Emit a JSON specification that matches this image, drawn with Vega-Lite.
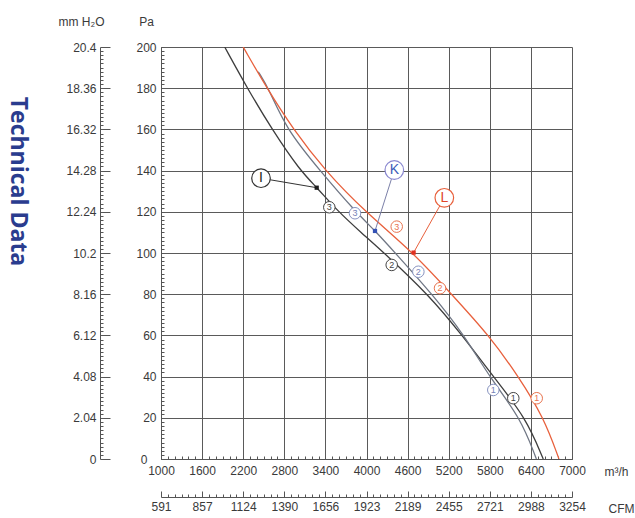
{
  "$schema": "https://vega.github.io/schema/vega-lite/v6.json",
  "width": 411,
  "height": 412,
  "autosize": {"type": "none"},
  "padding": {"left": 161, "top": 47, "right": 63, "bottom": 59},
  "background": "white",
  "config": {
    "view": {"stroke": null},
    "axis": {
      "labelFont": "Liberation Sans",
      "labelFontSize": 12,
      "labelColor": "#3a3a3a",
      "titleFont": "Liberation Sans",
      "titleFontSize": 12,
      "titleFontWeight": "normal",
      "titleColor": "#3a3a3a",
      "domainColor": "#555555",
      "tickColor": "#555555",
      "labelOverlap": false,
      "labelFlush": false,
      "labelBound": false
    }
  },
  "datasets": {
    "curves": [
      {"fan": "I", "flow": 1930, "pressure": 200},
      {"fan": "I", "flow": 2260, "pressure": 180},
      {"fan": "I", "flow": 2620, "pressure": 160},
      {"fan": "I", "flow": 3030, "pressure": 140},
      {"fan": "I", "flow": 3270, "pressure": 132},
      {"fan": "I", "flow": 3590, "pressure": 120},
      {"fan": "I", "flow": 3920, "pressure": 110},
      {"fan": "I", "flow": 4260, "pressure": 100},
      {"fan": "I", "flow": 4900, "pressure": 80},
      {"fan": "I", "flow": 5400, "pressure": 60},
      {"fan": "I", "flow": 5850, "pressure": 40},
      {"fan": "I", "flow": 6330, "pressure": 20},
      {"fan": "I", "flow": 6580, "pressure": 0},
      {"fan": "K", "flow": 2420, "pressure": 188},
      {"fan": "K", "flow": 2570, "pressure": 180},
      {"fan": "K", "flow": 2830, "pressure": 160},
      {"fan": "K", "flow": 3320, "pressure": 140},
      {"fan": "K", "flow": 3840, "pressure": 120},
      {"fan": "K", "flow": 4120, "pressure": 111},
      {"fan": "K", "flow": 4420, "pressure": 100},
      {"fan": "K", "flow": 4960, "pressure": 80},
      {"fan": "K", "flow": 5430, "pressure": 60},
      {"fan": "K", "flow": 5790, "pressure": 40},
      {"fan": "K", "flow": 6250, "pressure": 20},
      {"fan": "K", "flow": 6480, "pressure": 0},
      {"fan": "L", "flow": 2200, "pressure": 200},
      {"fan": "L", "flow": 2545, "pressure": 180},
      {"fan": "L", "flow": 2930, "pressure": 160},
      {"fan": "L", "flow": 3394, "pressure": 140},
      {"fan": "L", "flow": 3980, "pressure": 120},
      {"fan": "L", "flow": 4690, "pressure": 100},
      {"fan": "L", "flow": 5240, "pressure": 80},
      {"fan": "L", "flow": 5790, "pressure": 60},
      {"fan": "L", "flow": 6220, "pressure": 40},
      {"fan": "L", "flow": 6590, "pressure": 20},
      {"fan": "L", "flow": 6810, "pressure": 0}
    ],
    "leaders": [
      {"fan": "I", "flow": 2460, "pressure": 136.3},
      {"fan": "I", "flow": 3273, "pressure": 131.7},
      {"fan": "K", "flow": 4406, "pressure": 140.3},
      {"fan": "K", "flow": 4124, "pressure": 110.7},
      {"fan": "L", "flow": 5136, "pressure": 126.8},
      {"fan": "L", "flow": 4688, "pressure": 100.2}
    ],
    "operating": [
      {"fan": "I", "flow": 3273, "pressure": 131.7},
      {"fan": "K", "flow": 4124, "pressure": 110.7},
      {"fan": "L", "flow": 4688, "pressure": 100.2}
    ],
    "names": [
      {"fan": "I", "flow": 2460, "pressure": 136.3, "text": "I"},
      {"fan": "K", "flow": 4406, "pressure": 140.3, "text": "K"},
      {"fan": "L", "flow": 5136, "pressure": 126.8, "text": "L"}
    ],
    "steps": [
      {"fan": "I", "flow": 3457, "pressure": 122.2, "text": "3"},
      {"fan": "I", "flow": 4368, "pressure": 94.2, "text": "2"},
      {"fan": "I", "flow": 6143, "pressure": 29.5, "text": "1"},
      {"fan": "K", "flow": 3832, "pressure": 119.3, "text": "3"},
      {"fan": "K", "flow": 4757, "pressure": 90.9, "text": "2"},
      {"fan": "K", "flow": 5851, "pressure": 33.5, "text": "1"},
      {"fan": "L", "flow": 4441, "pressure": 112.8, "text": "3"},
      {"fan": "L", "flow": 5073, "pressure": 82.9, "text": "2"},
      {"fan": "L", "flow": 6485, "pressure": 29.5, "text": "1"}
    ],
    "side": [
      {"flow": -1088, "pressure": 134.7, "text": "Technical Data"}
    ]
  },
  "layer": [
    {
      "data": {"name": "curves"},
      "mark": {"type": "line", "interpolate": "basis", "strokeWidth": 1.3, "clip": true},
      "encoding": {
        "x": {
          "field": "flow", "type": "quantitative",
          "scale": {"domain": [1000, 7000], "nice": false, "zero": false},
          "axis": {
            "orient": "bottom",
            "values": [1000,1100,1200,1300,1400,1500,1600,1700,1800,1900,2000,2100,2200,2300,2400,2500,2600,2700,2800,2900,3000,3100,3200,3300,3400,3500,3600,3700,3800,3900,4000,4100,4200,4300,4400,4500,4600,4700,4800,4900,5000,5100,5200,5300,5400,5500,5600,5700,5800,5900,6000,6100,6200,6300,6400,6500,6600,6700,6800,6900,7000],
            "tickSize": -3,
            "labelPadding": 9,
            "labelExpr": "(datum.value - 1000) % 600 === 0 ? '' + datum.value : ''",
            "grid": true,
            "gridColor": "#5a5a5a",
            "gridWidth": 1,
            "gridOpacity": {"condition": {"test": "(datum.value - 1000) % 600 === 0", "value": 1}, "value": 0},
            "title": "m³/h",
            "titleX": 455,
            "titleY": 12,
            "titleAlign": "center",
            "titleBaseline": "middle",
            "titleAngle": 0
          }
        },
        "y": {
          "field": "pressure", "type": "quantitative",
          "scale": {"domain": [0, 200], "nice": false, "zero": false},
          "axis": {
            "orient": "left",
            "values": [0,2,4,6,8,10,12,14,16,18,20,22,24,26,28,30,32,34,36,38,40,42,44,46,48,50,52,54,56,58,60,62,64,66,68,70,72,74,76,78,80,82,84,86,88,90,92,94,96,98,100,102,104,106,108,110,112,114,116,118,120,122,124,126,128,130,132,134,136,138,140,142,144,146,148,150,152,154,156,158,160,162,164,166,168,170,172,174,176,178,180,182,184,186,188,190,192,194,196,198,200],
            "tickSize": -3,
            "labelPadding": {"condition": {"test": "datum.value === 0", "value": 17}, "value": 8},
            "labelExpr": "datum.value % 20 === 0 ? '' + datum.value : ''",
            "grid": true,
            "gridColor": "#5a5a5a",
            "gridWidth": 1,
            "gridOpacity": {"condition": {"test": "datum.value % 20 === 0", "value": 1}, "value": 0},
            "title": "Pa",
            "titleAngle": 0,
            "titleX": -15,
            "titleY": -26,
            "titleAlign": "center",
            "titleBaseline": "middle"
          }
        },
        "color": {"field": "fan", "type": "nominal", "scale": {"domain": ["I", "K", "L"], "range": ["#3d3d3d", "#6f7684", "#e8603c"]}, "legend": null}
      }
    },
    {
      "data": {"name": "leaders"},
      "mark": {"type": "line", "strokeWidth": 1},
      "encoding": {
        "x": {
          "field": "flow", "type": "quantitative",
          "scale": {"domain": [1000, 7000], "nice": false, "zero": false},
          "axis": {
            "orient": "bottom",
            "offset": 38,
            "values": [1000,1100,1200,1300,1400,1500,1600,1700,1800,1900,2000,2100,2200,2300,2400,2500,2600,2700,2800,2900,3000,3100,3200,3300,3400,3500,3600,3700,3800,3900,4000,4100,4200,4300,4400,4500,4600,4700,4800,4900,5000,5100,5200,5300,5400,5500,5600,5700,5800,5900,6000,6100,6200,6300,6400,6500,6600,6700,6800,6900,7000],
            "tickSize": {"condition": {"test": "(datum.value - 1000) % 600 === 0", "value": -6}, "value": -3},
            "labelPadding": 10,
            "labelExpr": "(datum.value - 1000) % 600 === 0 ? '' + round(591 + (datum.value - 1000) / 600 * 266.3 + 0.01) : ''",
            "grid": false,
            "title": "CFM",
            "titleX": 460,
            "titleY": 11,
            "titleAlign": "center",
            "titleBaseline": "middle",
            "titleAngle": 0
          }
        },
        "y": {
          "field": "pressure", "type": "quantitative",
          "scale": {"domain": [0, 200], "nice": false, "zero": false},
          "axis": {
            "orient": "left",
            "offset": 61,
            "values": [0,2,4,6,8,10,12,14,16,18,20,22,24,26,28,30,32,34,36,38,40,42,44,46,48,50,52,54,56,58,60,62,64,66,68,70,72,74,76,78,80,82,84,86,88,90,92,94,96,98,100,102,104,106,108,110,112,114,116,118,120,122,124,126,128,130,132,134,136,138,140,142,144,146,148,150,152,154,156,158,160,162,164,166,168,170,172,174,176,178,180,182,184,186,188,190,192,194,196,198,200],
            "tickSize": {"condition": {"test": "datum.value % 20 === 0", "value": -10}, "value": -3},
            "labelPadding": 14,
            "labelExpr": "datum.value % 20 === 0 ? format(datum.value * 0.102, '.2~f') : ''",
            "grid": false,
            "title": "mm H₂O",
            "titleAngle": 0,
            "titleX": -19,
            "titleY": -26,
            "titleAlign": "center",
            "titleBaseline": "middle"
          }
        },
        "detail": {"field": "fan", "type": "nominal"},
        "color": {"field": "fan", "type": "nominal", "scale": {"domain": ["I", "K", "L"], "range": ["#333333", "#7b80a8", "#e8603c"]}, "legend": null}
      }
    },
    {
      "data": {"name": "operating"},
      "mark": {"type": "point", "shape": "square", "filled": true, "size": 18, "opacity": 1},
      "encoding": {
        "x": {"field": "flow", "type": "quantitative", "scale": {"domain": [1000, 7000], "nice": false, "zero": false}, "axis": null},
        "y": {"field": "pressure", "type": "quantitative", "scale": {"domain": [0, 200], "nice": false, "zero": false}, "axis": null},
        "color": {"field": "fan", "type": "nominal", "scale": {"domain": ["I", "K", "L"], "range": ["#1e1e1e", "#3452b5", "#e03020"]}, "legend": null}
      }
    },
    {
      "data": {"name": "names"},
      "mark": {"type": "point", "shape": "circle", "filled": false, "fill": "white", "fillOpacity": 1, "size": 346, "strokeWidth": 1.2, "opacity": 1},
      "encoding": {
        "x": {"field": "flow", "type": "quantitative", "scale": {"domain": [1000, 7000], "nice": false, "zero": false}, "axis": null},
        "y": {"field": "pressure", "type": "quantitative", "scale": {"domain": [0, 200], "nice": false, "zero": false}, "axis": null},
        "stroke": {"field": "fan", "type": "nominal", "scale": {"domain": ["I", "K", "L"], "range": ["#333333", "#8a88d0", "#e8603c"]}, "legend": null}
      }
    },
    {
      "data": {"name": "names"},
      "mark": {"type": "text", "font": "Liberation Sans", "fontSize": 14, "align": "center", "baseline": "middle"},
      "encoding": {
        "x": {"field": "flow", "type": "quantitative", "scale": {"domain": [1000, 7000], "nice": false, "zero": false}, "axis": null},
        "y": {"field": "pressure", "type": "quantitative", "scale": {"domain": [0, 200], "nice": false, "zero": false}, "axis": null},
        "text": {"field": "text"},
        "color": {"field": "fan", "type": "nominal", "scale": {"domain": ["I", "K", "L"], "range": ["#222222", "#3d5cb8", "#e0452a"]}, "legend": null}
      }
    },
    {
      "data": {"name": "steps"},
      "mark": {"type": "point", "shape": "circle", "filled": false, "fill": "white", "fillOpacity": 1, "size": 133, "strokeWidth": 1, "opacity": 1},
      "encoding": {
        "x": {"field": "flow", "type": "quantitative", "scale": {"domain": [1000, 7000], "nice": false, "zero": false}, "axis": null},
        "y": {"field": "pressure", "type": "quantitative", "scale": {"domain": [0, 200], "nice": false, "zero": false}, "axis": null},
        "stroke": {"field": "fan", "type": "nominal", "scale": {"domain": ["I", "K", "L"], "range": ["#444444", "#8793c0", "#e8744f"]}, "legend": null}
      }
    },
    {
      "data": {"name": "steps"},
      "mark": {"type": "text", "font": "Liberation Sans", "fontSize": 9, "align": "center", "baseline": "middle"},
      "encoding": {
        "x": {"field": "flow", "type": "quantitative", "scale": {"domain": [1000, 7000], "nice": false, "zero": false}, "axis": null},
        "y": {"field": "pressure", "type": "quantitative", "scale": {"domain": [0, 200], "nice": false, "zero": false}, "axis": null},
        "text": {"field": "text"},
        "color": {"field": "fan", "type": "nominal", "scale": {"domain": ["I", "K", "L"], "range": ["#444444", "#7683b8", "#e8744f"]}, "legend": null}
      }
    },
    {
      "data": {"name": "side"},
      "mark": {"type": "text", "font": "Open Sans", "fontSize": 23, "fontWeight": "bold", "angle": 90, "align": "center", "baseline": "middle", "color": "#2a3c8e", "clip": false},
      "encoding": {
        "x": {"field": "flow", "type": "quantitative", "scale": {"domain": [1000, 7000], "nice": false, "zero": false}, "axis": null},
        "y": {"field": "pressure", "type": "quantitative", "scale": {"domain": [0, 200], "nice": false, "zero": false}, "axis": null},
        "text": {"field": "text"}
      }
    }
  ],
  "resolve": {
    "axis": {"x": "independent", "y": "independent"},
    "scale": {"color": "independent", "stroke": "independent"}
  }
}
